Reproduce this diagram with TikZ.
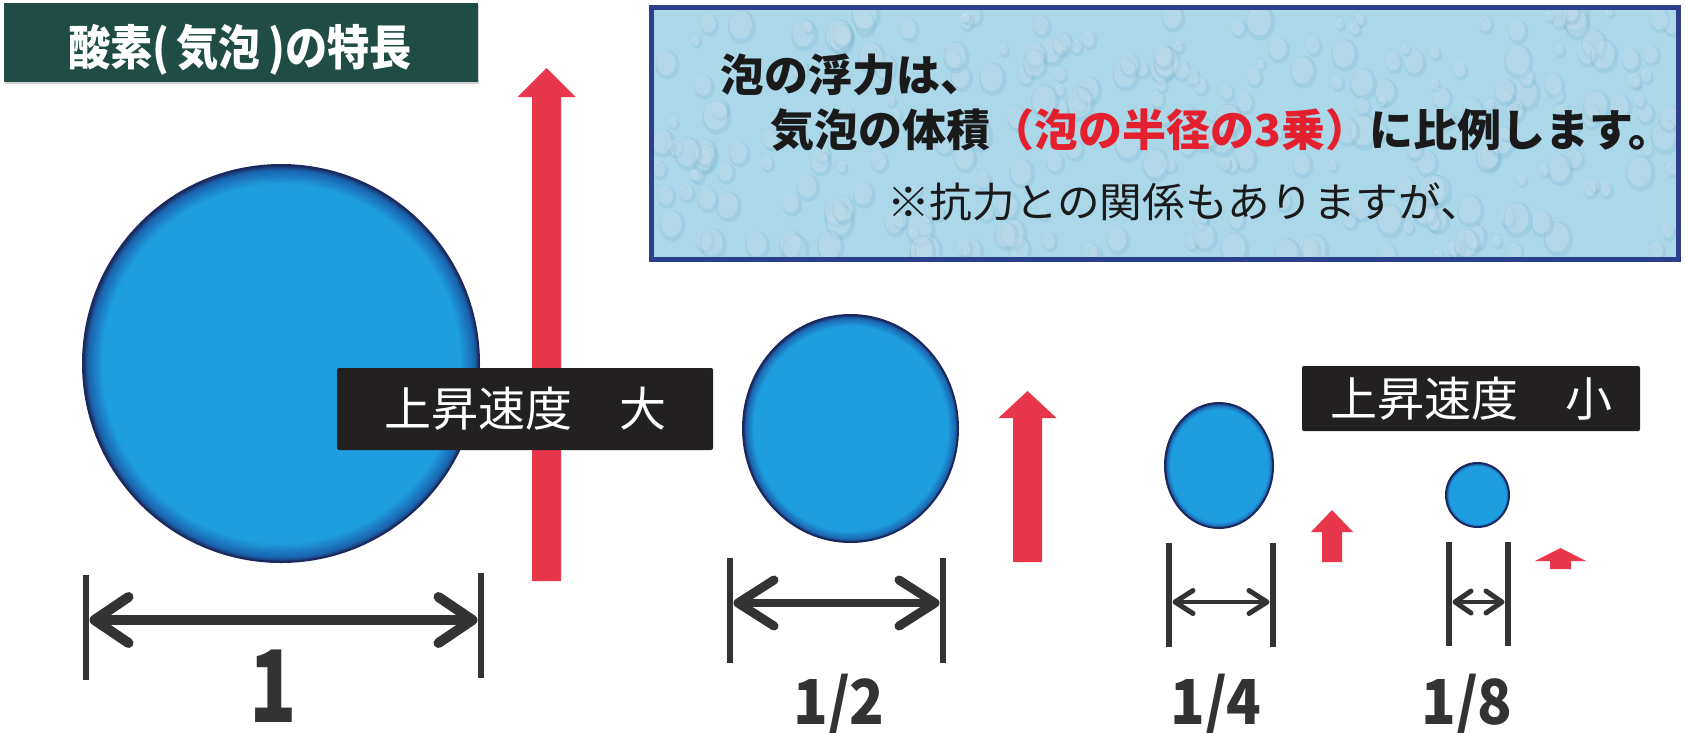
\documentclass[tikz,border=0pt]{standalone}
\usepackage{fontspec}
\setmainfont{Noto Sans CJK JP}
\usetikzlibrary{arrows.meta,shapes.geometric,shadows}
\definecolor{bubble}{HTML}{1E9DE0}
\definecolor{bubbledark}{HTML}{1A64AE}
\definecolor{bubblerim}{HTML}{1B2A5E}
\definecolor{arrowred}{HTML}{E8364B}
\definecolor{titlegreen}{HTML}{1F4C44}
\definecolor{labelblack}{HTML}{232021}
\definecolor{dimgray}{HTML}{333333}
\definecolor{panelblue}{HTML}{AAD8E9}
\definecolor{panelrim}{HTML}{2B3F8C}
\definecolor{dropdark}{HTML}{6FAFCB}
\definecolor{textred}{HTML}{E5202E}
\definecolor{textdark}{HTML}{1A1A1A}
\pgfdeclareradialshading{bubbleshade}{\pgfpoint{0bp}{0bp}}{color(0bp)=(bubble); color(22.6bp)=(bubble); color(24.4bp)=(bubbledark); color(25bp)=(bubblerim); color(50bp)=(bubblerim)}
\newcommand\fsz[1]{\fontsize{#1}{#1}\selectfont}
\newcommand\uparr[6]{%
  \fill[arrowred] (#1-#5,#2) -- (#1-#5,#4) -- (#1-#6,#4) -- (#1,#3) -- (#1+#6,#4) -- (#1+#5,#4) -- (#1+#5,#2) -- cycle;}
\begin{document}
\begin{tikzpicture}[x=1pt,y=-1pt,
  bubblenode/.style={ellipse, inner sep=0pt, shading=bubbleshade, draw=bubblerim, line width=2pt},
  tickline/.style={draw=dimgray, line width=6.5pt},
  darklabel/.style={fill=labelblack, text=white, inner sep=0pt, rounded corners=2pt, font=\fsz{47}},
  numlabel/.style={text=dimgray, inner sep=0pt, anchor=base, font=\bfseries\fsz{#1}},
  paneltext/.style={anchor=west, inner sep=0pt, text=textdark},
]
\useasboundingbox (0,0) rectangle (1686,732);
\fill[white] (0,0) rectangle (1686,732);

% title
\node[fill=titlegreen, minimum width=474pt, minimum height=79pt, inner sep=0pt,
      drop shadow={opacity=0.35, shadow xshift=1pt, shadow yshift=-2pt}] (titlebox) at (241,42.5) {};
\node[text=white, font=\bfseries\fsz{48}, xscale=0.88, inner sep=0pt] (titletext) at (240,50) {酸素(\,気泡\,)の特長};

% panel
\node[fill=panelblue, minimum width=1026pt, minimum height=251pt, inner sep=0pt,
      drop shadow={opacity=0.25, shadow xshift=2pt, shadow yshift=-3pt, fill=violet!40}] (panel) at (1165,133.5) {};
\begin{scope}
  \clip (panel.north west) rectangle (panel.south east);
  \pgfmathsetseed{12}
  \foreach \k in {1,...,260}{
    \pgfmathsetmacro\dx{655+1020*rnd}
    \pgfmathsetmacro\dy{10+248*rnd}
    \pgfmathsetmacro\dr{4+11*rnd}
    \fill[dropdark, opacity=0.22] (\dx+1.5,\dy+2) ellipse [x radius=\dr, y radius=1.2*\dr];
    \fill[white, opacity=0.22] (\dx,\dy) ellipse [x radius=0.8*\dr, y radius=\dr];
  }
\end{scope}
\draw[panelrim, line width=5pt] (panel.north west) rectangle (panel.south east);
\node[paneltext, font=\bfseries\fsz{44}] (line1) at (720,75) {泡の浮力は、};
\node[paneltext, font=\bfseries\fsz{44}] (line2) at (770,130) {気泡の体積\textcolor{textred}{（泡の半径の3乗）}に比例します。};
\node[paneltext, font=\fsz{41}, xscale=1.04] (line3) at (887,202) {※抗力との関係もありますが、};

% bubbles and arrows
\node[bubblenode, minimum width=396pt, minimum height=397pt] (b1) at (281,363.5) {};
\uparr{546.5}{581}{68}{97}{14.5}{29}
\node[darklabel, minimum width=376pt, minimum height=82pt] (fast) at (525,409) {上昇速度　大};

\node[bubblenode, minimum width=215pt, minimum height=227pt] (b2) at (850.5,428.5) {};
\uparr{1027.5}{562}{391}{418}{14.5}{29}

\node[bubblenode, minimum width=108pt, minimum height=125pt] (b3) at (1219,465.5) {};
\uparr{1332}{562}{510}{532}{10}{21}

\node[bubblenode, minimum width=63pt, minimum height=64pt] (b4) at (1477.5,495) {};
\uparr{1560.5}{569}{548}{561}{10.5}{25.5}

\node[darklabel, minimum width=338pt, minimum height=65pt] (slow) at (1471,398.5) {上昇速度　小};

% dimension 1
\coordinate (d1lt) at (86,575); \coordinate (d1lb) at (86,680);
\coordinate (d1rt) at (481,573); \coordinate (d1rb) at (481,678);
\coordinate (d1l) at (89.5,620); \coordinate (d1r) at (477.5,620);
\draw[tickline] (d1lt) -- (d1lb);
\draw[tickline] (d1rt) -- (d1rb);
\draw[dimgray, line width=10pt, {Straight Barb[length=34pt,width=46pt,round]}-{Straight Barb[length=34pt,width=46pt,round]}] (d1l) -- (d1r);
\node[numlabel=100, xscale=0.78] (n1) at (273,722) {1};

% dimension 1/2
\coordinate (d2lt) at (730,558); \coordinate (d2lb) at (730,663);
\coordinate (d2rt) at (943,558); \coordinate (d2rb) at (943,663);
\coordinate (d2l) at (733.5,603); \coordinate (d2r) at (939.5,603);
\draw[tickline] (d2lt) -- (d2lb);
\draw[tickline] (d2rt) -- (d2rb);
\draw[dimgray, line width=8pt, {Straight Barb[length=36pt,width=46pt,line width=9pt,round]}-{Straight Barb[length=36pt,width=46pt,line width=9pt,round]}] (d2l) -- (d2r);
\node[numlabel=62, xscale=0.92] (n2) at (839,724) {1/2};

% dimension 1/4
\coordinate (d3lt) at (1169,543); \coordinate (d3lb) at (1169,647);
\coordinate (d3rt) at (1273,543); \coordinate (d3rb) at (1273,647);
\coordinate (d3l) at (1172.5,602); \coordinate (d3r) at (1269.5,602);
\draw[tickline] (d3lt) -- (d3lb);
\draw[tickline] (d3rt) -- (d3rb);
\draw[dimgray, line width=4pt, {Straight Barb[length=18pt,width=23pt,line width=5pt,round]}-{Straight Barb[length=18pt,width=23pt,line width=5pt,round]}] (d3l) -- (d3r);
\node[numlabel=62, xscale=0.92] (n3) at (1216,724) {1/4};

% dimension 1/8
\coordinate (d4lt) at (1449,542); \coordinate (d4lb) at (1449,646);
\coordinate (d4rt) at (1508,542); \coordinate (d4rb) at (1508,646);
\coordinate (d4l) at (1452.5,602); \coordinate (d4r) at (1504.5,602);
\draw[tickline] (d4lt) -- (d4lb);
\draw[tickline] (d4rt) -- (d4rb);
\draw[dimgray, line width=4pt, {Straight Barb[length=16pt,width=22pt,line width=5pt,round]}-{Straight Barb[length=16pt,width=22pt,line width=5pt,round]}] (d4l) -- (d4r);
\node[numlabel=62, xscale=0.92] (n4) at (1467,724) {1/8};
\end{tikzpicture}
\end{document}
